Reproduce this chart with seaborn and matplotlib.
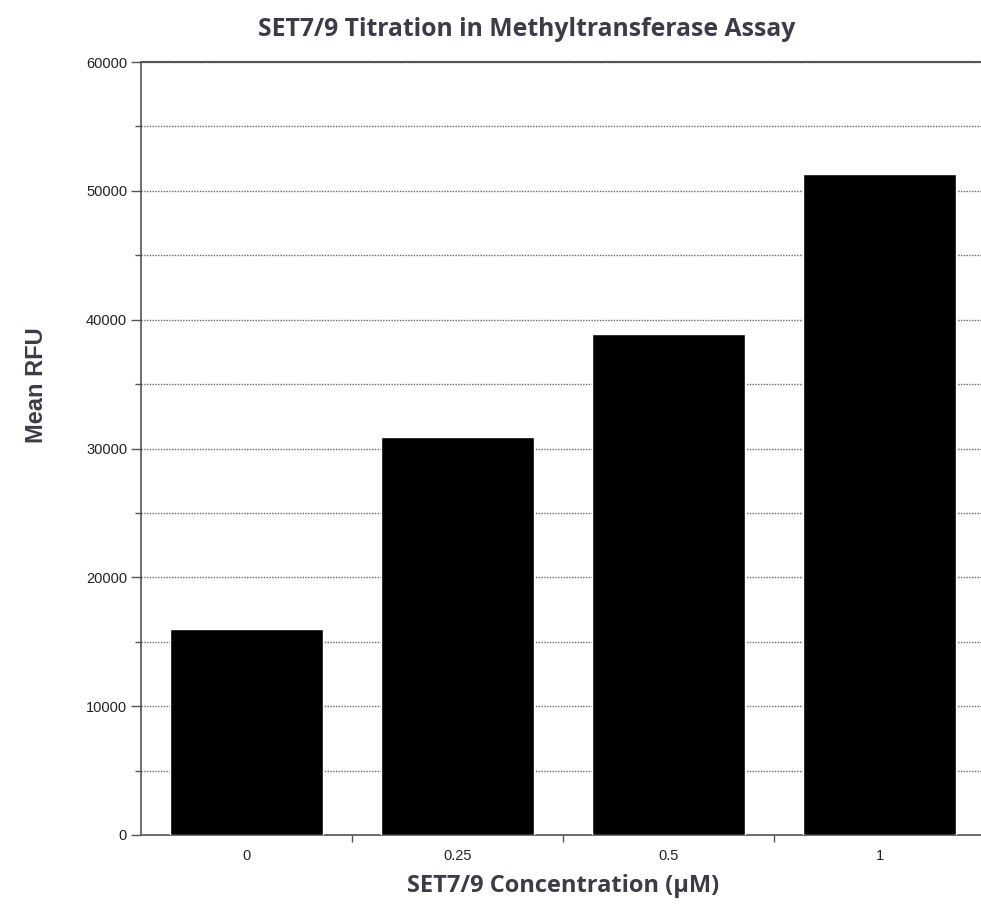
import matplotlib
matplotlib.use("Agg")
import matplotlib.pyplot as plt
import pandas as pd
import seaborn as sns
from matplotlib.ticker import MultipleLocator

concentrations = ["0", "0.25", "0.5", "1"]
mean_rfu = [16000, 30900, 38900, 51300]

frame = pd.DataFrame({"conc": concentrations, "rfu": mean_rfu})

sns.set_theme(style="white")
plt.rcParams["font.family"] = ["Liberation Sans", "DejaVu Sans"]

fig = plt.figure(figsize=(9.81, 9.06), dpi=100)
ax = fig.add_axes([141 / 981, (906 - 835) / 906, (985 - 141) / 981, (835 - 62) / 906])

sns.barplot(data=frame, x="conc", y="rfu", color="black", width=0.725,
            saturation=1, ax=ax, zorder=3)

ax.set_ylim(0, 60000)
ax.set_xlim(-0.5, 3.5)
ax.yaxis.set_major_locator(MultipleLocator(10000))
ax.yaxis.set_minor_locator(MultipleLocator(5000))
ax.grid(True, which="both", axis="y", color="#666666", linestyle=(0, (1, 1)),
        linewidth=1.0, zorder=0)
ax.axhline(60000, color="#555555", linewidth=1.5, zorder=4, clip_on=False)

for side in ["right", "top"]:
    ax.spines[side].set_visible(False)
for side in ["left", "bottom"]:
    ax.spines[side].set_color("#555555")
    ax.spines[side].set_linewidth(1.2)

ax.tick_params(axis="y", which="major", left=True, length=7, width=1, color="#555555",
               labelsize=10.5, labelcolor="#222222", pad=3)
ax.tick_params(axis="y", which="minor", left=True, length=4, width=1, color="#555555")
ax.tick_params(axis="x", which="major", bottom=False, labelsize=10.5,
               labelcolor="#222222", pad=4)
ax.set_xticks([0.5, 1.5, 2.5], minor=True)
ax.tick_params(axis="x", which="minor", bottom=True, length=5, width=1, color="#555555")

ax.set_xlabel("SET7/9 Concentration (\u03bcM)", fontsize=17, fontweight="bold",
              color="#3c3c48", family=["Open Sans", "DejaVu Sans"], labelpad=8)
ax.set_ylabel("Mean RFU", fontsize=17, fontweight="bold", color="#3c3c48")
ax.yaxis.set_label_coords(-0.11, (835 - 385) / (835 - 62))
fig.text(0.537, 0.967, "SET7/9 Titration in Methyltransferase Assay", ha="center",
         va="center", fontsize=17.8, fontweight="bold", color="#3c3c48",
         family=["Open Sans", "DejaVu Sans"])

fig.savefig("out.png", dpi=100)
